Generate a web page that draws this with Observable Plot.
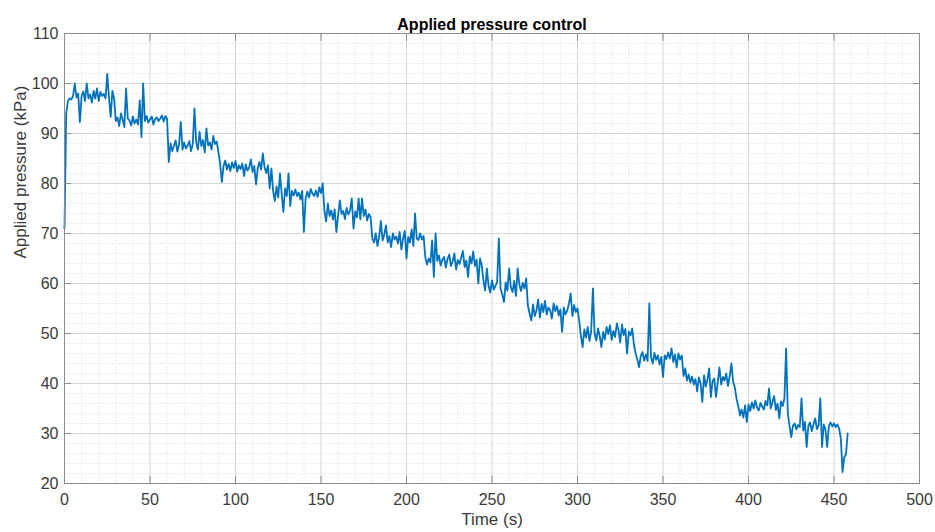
<!DOCTYPE html>
<html>
<head>
<meta charset="utf-8">
<script src="https://cdn.jsdelivr.net/npm/d3@7"></script>
<script src="https://cdn.jsdelivr.net/npm/@observablehq/plot@0.6"></script>
<style>
  html, body { margin: 0; padding: 0; background: #fff; }
  #chart { width: 935px; height: 532px; }
</style>
</head>
<body>
<div id="chart"></div>
<script>
const title = "Applied pressure control";
const xLabel = "Time (s)";
const yLabel = "Applied pressure (kPa)";
const xTicks = [0, 50, 100, 150, 200, 250, 300, 350, 400, 450, 500];
const yTicks = [20, 30, 40, 50, 60, 70, 80, 90, 100, 110];
const sampleStep = 1; // seconds between samples

// Applied pressure (kPa), one reading per second from t = 0 s
const pressure = [
  71, 94, 96.5, 97, 96.8, 97.5, 100, 97.2, 98, 92.3,
  97.5, 98.4, 96.5, 100, 97, 97.8, 96.2, 98.5, 97, 99,
  96.5, 98.3, 97.5, 97.9, 97, 101.9, 97.2, 93.3, 98.5, 97,
  92.5, 93.2, 91.5, 94, 92.8, 91.3, 99, 93, 92.6, 91.6,
  93.4, 92, 92.8, 91.8, 96.6, 89.3, 100, 92.5, 93.5, 92.2,
  92.8, 93.4, 91.8, 92.9, 93.2, 92.5, 93, 93.6, 92.4, 93.5,
  92.9, 84.3, 88, 86.5, 87.5, 88.6, 86.4, 87.8, 92.3, 86.8,
  88.2, 87, 87.6, 88.5, 86.5, 87.9, 95, 88.3, 86.8, 90.3,
  87.5, 88.7, 86.2, 91.0, 87.6, 88.2, 86.8, 89.5, 87.9, 88.4,
  86.3, 84, 80.3, 83.5, 84.6, 82.8, 83.9, 82.5, 84.2, 83.1,
  84.5, 82.4, 83.6, 82.9, 84, 81.5, 83.8, 82.6, 83.2, 84.8,
  82.3, 83.5, 79.8, 83, 84.3, 82.8, 86, 83.2, 82.1, 83.6,
  79, 83, 78.5, 76.5, 79.4, 77.2, 82, 78, 74.3, 79,
  77.5, 82, 75.5, 78.5, 77.6, 78.8, 77.5, 78.2, 76.8, 78.5,
  70.3, 77, 78.4, 77.2, 78.9, 78, 77.5, 78.6, 77.3, 79.2,
  78.1, 80, 74.5, 72.4, 76, 73.5, 74.6, 72.8, 74.8, 70.3,
  73.6, 76.6, 73.9, 74.5, 72.9, 75.1, 73.8, 74.6, 77, 71,
  74.4, 73.2, 77, 72.8, 77, 73.5, 74.8, 72.6, 73.9, 73.3,
  69, 68.2, 70, 67.5, 69.3, 72.5, 68.6, 69.8, 71.6, 68.2,
  69.5, 67.3, 70, 68.8, 69.4, 68, 70.3, 66.8, 69, 70.5,
  65, 69.3, 68.2, 70.8, 67.5, 74, 69, 68.7, 70, 68.8,
  69.5, 65.2, 63.8, 65, 64.2, 68.6, 61.3, 70, 64.5, 65.6,
  63.6, 64.8, 65.3, 63.2, 64.9, 65.8, 63.5, 64.4, 66, 62.8,
  64.7, 63.9, 65.2, 66.5, 63.3, 64.6, 61.3, 65.4, 64, 66.4,
  63.5, 64.8, 60, 65, 63.7, 60.5, 58.6, 63, 59.5, 58.2,
  60.6, 58.8, 59.5, 60.3, 69, 59, 57.8, 56.3, 60.2, 58.6,
  63, 59.3, 58.3, 60.5, 57.5, 63, 59.8, 58.5, 60.1, 59,
  61, 55.5, 54, 52.6, 55.8, 53.5, 54.6, 56.8, 53.2, 55.9,
  54.3, 56.5, 53.8, 55.2, 54.7, 53, 56, 54.5, 55.5, 53.6,
  54.8, 50.3, 55.2, 53.8, 54.6, 56, 58, 53.5, 55.7, 54.3,
  55, 52.5, 49.5, 47.3, 50.8, 49.2, 51.3, 48.5, 50.5, 59,
  50, 48.6, 51, 49.5, 47.3, 50.3, 48.8, 51.3, 49.9, 51.6,
  48.7, 50.5, 49.3, 52, 50.6, 48.2, 51.8, 49.7, 50.9, 46,
  50.4, 49.6, 51, 47.8, 46, 44.8, 43.3, 45.5, 46.3, 44.6,
  45.8, 44.5, 56, 45.2, 44, 46.1, 44.7, 45.6, 43.8, 45.3,
  41.3, 45.6, 44.9, 46.2, 45, 47, 44.3, 45.8, 43.2, 46,
  44.8, 45.6, 41.5, 43, 40.6, 41.8, 40.2, 41.4, 39.8, 40.9,
  38.4, 41.2, 40, 36.3, 41.6, 39.4, 40.8, 43, 37.3, 40.5,
  41, 37.3, 40.2, 43.2, 39.8, 41.3, 40.6, 42, 39.5, 41.5,
  44, 40.4, 39.2, 37, 35.5, 33.6, 34.8, 33.2, 35.6, 32.3,
  35.8, 34.5, 36.2, 35, 36.6, 35.2, 34.6, 36.1, 35.4, 34.8,
  36.5, 35.6, 39, 35, 36.3, 37.5, 34.7, 36, 33, 36.4,
  35.5, 37, 47, 34, 31.5, 29.3, 31.6, 32, 30.8, 31.7,
  31.3, 37, 30.6, 32.3, 27.3, 31.5, 32.2, 30.5, 31.8, 33,
  30.9, 31.6, 37, 27.3, 31.8, 30.8, 27.3, 31.5, 32.2, 31.4,
  32, 31.3, 31.8, 31, 29, 22.3, 25.3, 25.8, 30
];

const data = pressure.map((p, i) => ({time: i * sampleStep, pressure: p}));
const xMinor = d3.range(0, 501, 10).filter(v => v % 50 !== 0);
const yMinor = d3.range(20, 111, 2).filter(v => v % 10 !== 0);

const axisColor = "#262626";
const font = "Liberation Sans, Arial, Helvetica, sans-serif";

const chart = Plot.plot({
  width: 935,
  height: 532,
  marginLeft: 64,
  marginRight: 16,
  marginTop: 33,
  marginBottom: 49,
  style: {fontFamily: font, fontSize: "16px", color: axisColor, background: "#fff"},
  x: {domain: [0, 500], ticks: xTicks},
  y: {domain: [20, 110], ticks: yTicks},
  marks: [
    Plot.ruleX(xMinor, {stroke: "#e6e6e6", strokeDasharray: "1.5,1.5"}),
    Plot.ruleY(yMinor, {stroke: "#e6e6e6", strokeDasharray: "1.5,1.5"}),
    Plot.ruleX(xTicks, {stroke: "#d6d6d6"}),
    Plot.ruleY(yTicks, {stroke: "#d6d6d6"}),
    Plot.line(data, {x: "time", y: "pressure", stroke: "#0072BD", strokeWidth: 1.8, strokeLinejoin: "round"}),
    Plot.frame({stroke: "#8c8c8c"}),
    Plot.axisX(xTicks, {anchor: "bottom", tickSize: -7, tickPadding: 17, label: null, stroke: "#8c8c8c", fill: "#3a3a3a"}),
    Plot.axisX(xTicks, {anchor: "top", tickSize: -7, tickFormat: () => "", label: null, stroke: "#8c8c8c"}),
    Plot.axisY(yTicks, {anchor: "left", tickSize: -7, tickPadding: 13, label: null, stroke: "#8c8c8c", fill: "#3a3a3a"}),
    Plot.axisY(yTicks, {anchor: "right", tickSize: -7, tickFormat: () => "", label: null, stroke: "#8c8c8c"}),
    Plot.text([title], {frameAnchor: "top", dy: -15, fontWeight: "bold", fontSize: 16, fill: "#000"}),
    Plot.text([xLabel], {frameAnchor: "bottom", dy: 41, fontSize: 17, fill: "#3a3a3a"}),
    Plot.text([yLabel], {frameAnchor: "left", dx: -44, rotate: -90, fontSize: 17, fill: "#3a3a3a"})
  ]
});
document.getElementById("chart").appendChild(chart);
</script>
</body>
</html>
